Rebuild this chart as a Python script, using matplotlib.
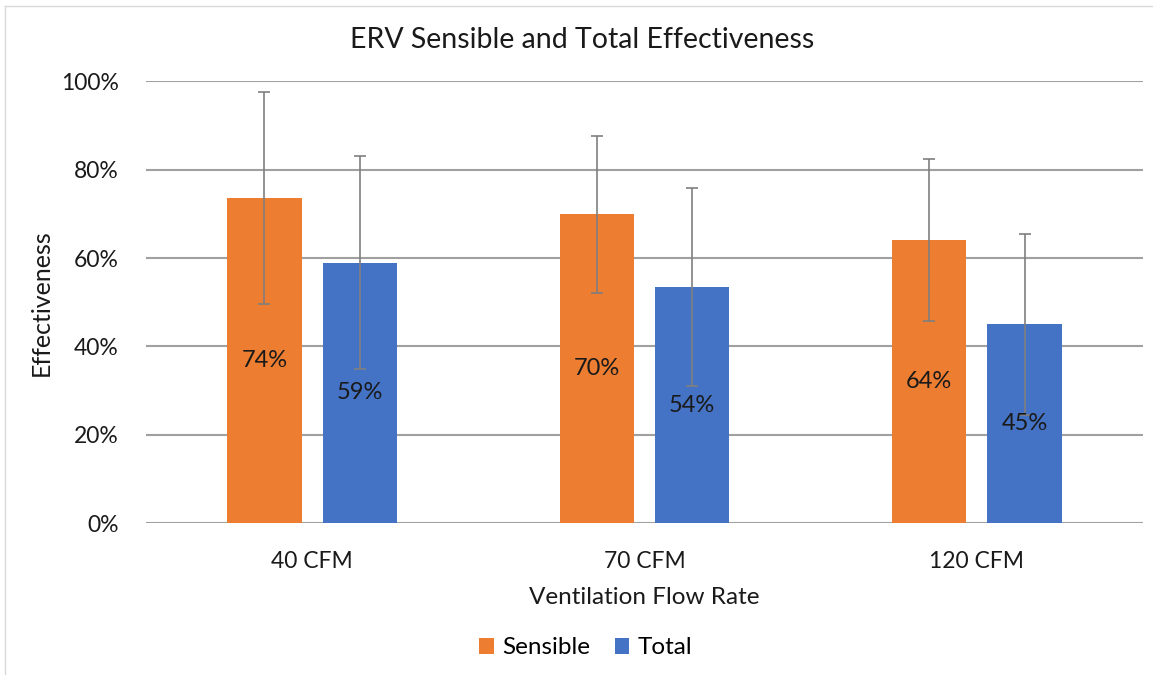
import numpy as np
import matplotlib.pyplot as plt
from matplotlib.lines import Line2D

plt.rcParams['font.family'] = ['Lato', 'DejaVu Sans']

# Data
categories = ["40 CFM", "70 CFM", "120 CFM"]
sensible = [73.6, 69.9, 64.1]
total = [59.0, 53.5, 45.0]
sensible_err = [24.0, 17.8, 18.3]
total_err = [24.1, 22.4, 20.5]
sensible_labels = ["74%", "70%", "64%"]
total_labels = ["59%", "54%", "45%"]

orange = "#ED7D31"
blue = "#4472C4"
grid_color = "#A0A0A0"
err_color = "#7F7F7F"
text_color = "#1A1A1A"

W, H = 1153, 675
fig = plt.figure(figsize=(W / 100, H / 100), dpi=100)
ax = fig.add_axes([146 / W, 1 - 523.3 / H, 997 / W, 442 / H])

x = np.arange(len(categories))
width = 0.224
offset = 0.1436

b1 = ax.bar(x - offset, sensible, width, color=orange, label="Sensible", zorder=2)
b2 = ax.bar(x + offset, total, width, color=blue, label="Total", zorder=2)
ax.errorbar(x - offset, sensible, yerr=sensible_err, fmt="none", ecolor=err_color,
            elinewidth=1.2, capsize=4, capthick=1.2, zorder=3)
ax.errorbar(x + offset, total, yerr=total_err, fmt="none", ecolor=err_color,
            elinewidth=1.2, capsize=4, capthick=1.2, zorder=3)

# Data labels at bar centre
for xi, v, lab in zip(x - offset, sensible, sensible_labels):
    ax.text(xi, v / 2, lab, ha="center", va="center", fontsize=17, color=text_color, zorder=4)
for xi, v, lab in zip(x + offset, total, total_labels):
    ax.text(xi, v / 2, lab, ha="center", va="center", fontsize=17, color=text_color, zorder=4)

ax.set_xlim(-0.5, len(categories) - 0.5)
ax.set_ylim(0, 100)
ax.set_yticks(range(0, 101, 20))
ax.set_yticklabels([f"{v}%" for v in range(0, 101, 20)])
ax.set_xticks(x)
ax.set_xticklabels(categories)
ax.tick_params(axis="both", length=0, labelsize=16.5, colors=text_color)
ax.tick_params(axis="x", pad=20)
ax.tick_params(axis="y", pad=19.5)
ax.yaxis.grid(True, color=grid_color, linewidth=1.5, zorder=0)
ax.set_axisbelow(True)
for s in ax.spines.values():
    s.set_visible(False)

fig.text(582 / W, 1 - 40 / H, "ERV Sensible and Total Effectiveness", fontsize=20.5,
         color=text_color, ha="center", va="center")

ax.set_ylabel("Effectiveness", fontsize=18, color=text_color)
ax.yaxis.label.set_va("center")
ax.yaxis.set_label_coords((41 - 146) / 997, 0.5)
ax.set_xlabel("Ventilation Flow Rate", fontsize=17.5, color=text_color)
ax.xaxis.label.set_va("center")
ax.xaxis.set_label_coords(0.5, (523.3 - 597) / 442)

fig.legend(handles=[b1, b2], labels=["Sensible", "Total"], loc="center",
           bbox_to_anchor=(586 / W, 1 - 648 / H), ncol=2, frameon=False, fontsize=17.5,
           handlelength=0.6, handleheight=0.6, handletextpad=0.35, columnspacing=1.0,
           borderpad=0, borderaxespad=0)

# Chart area border (left and top edges visible)
fig.add_artist(Line2D([5 / W, 5 / W], [0, 1 - 6 / H], transform=fig.transFigure,
                      color="#D9D9D9", linewidth=1))
fig.add_artist(Line2D([5 / W, 1], [1 - 6 / H, 1 - 6 / H], transform=fig.transFigure,
                      color="#D9D9D9", linewidth=1))

fig.savefig("out.png", dpi=100)
